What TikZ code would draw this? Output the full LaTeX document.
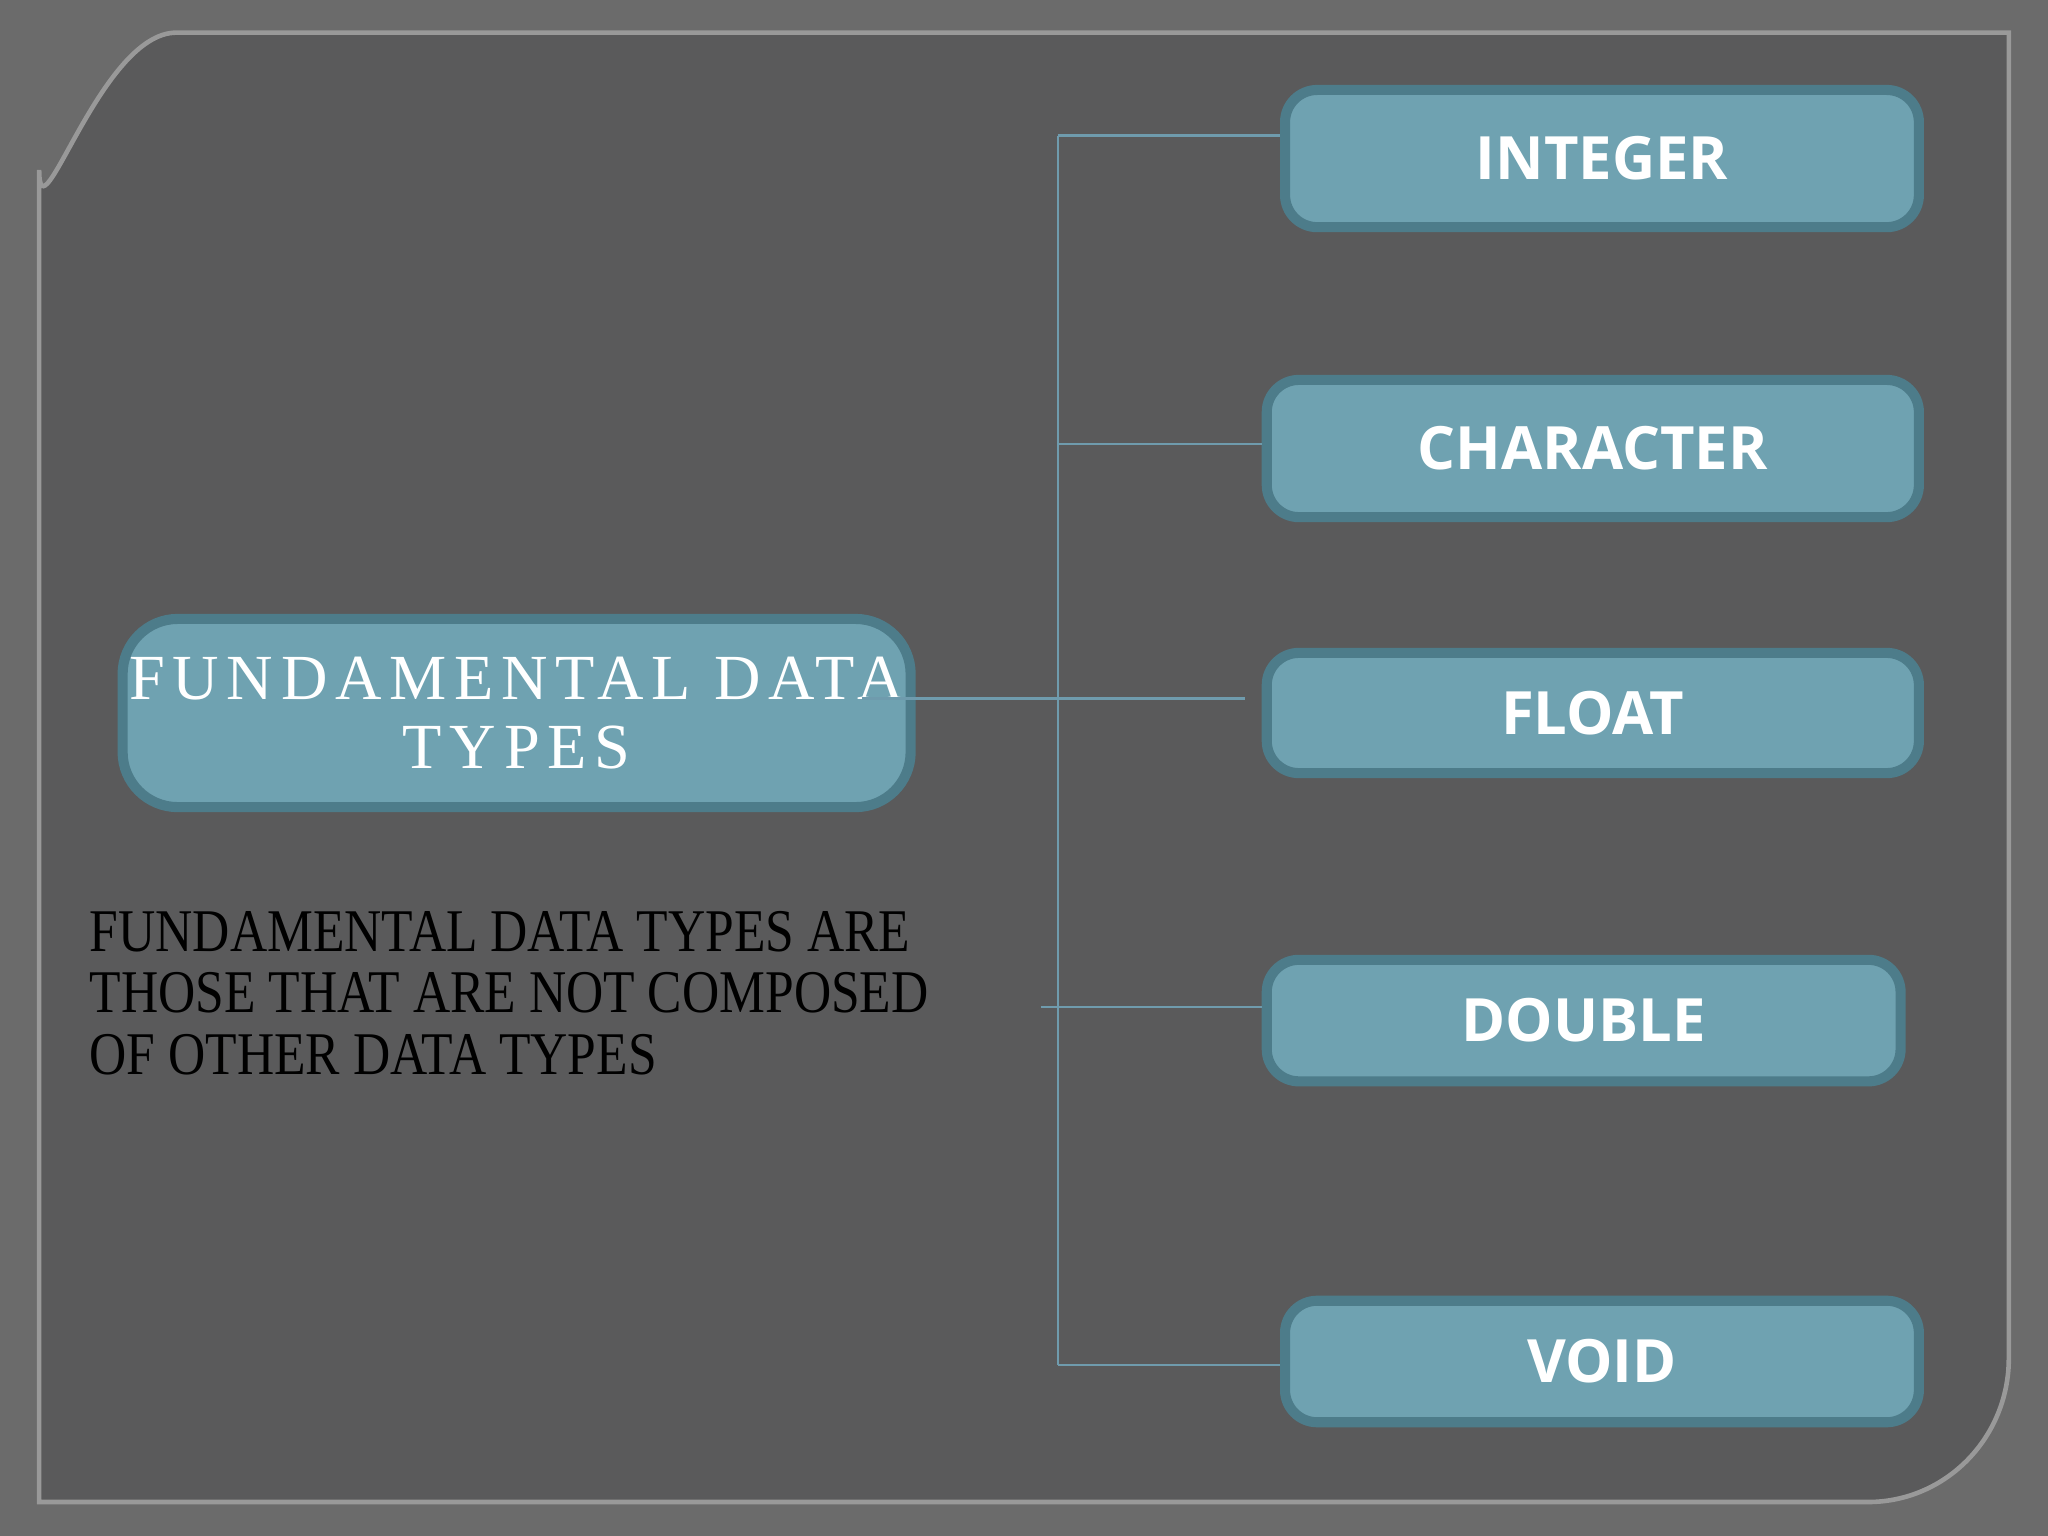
\documentclass[tikz,border=0pt]{standalone}
\usepackage{fontspec}
\setmainfont{Liberation Serif}
\newfontfamily\boxfont{Open Sans}
\newfontfamily\bodyfont{Liberation Serif}[FakeStretch=0.85]
\newfontfamily\titlefont{Liberation Serif}[LetterSpace=12]
\definecolor{outer}{HTML}{6B6B6B}
\definecolor{panel}{HTML}{5A5A5B}
\definecolor{boxfill}{HTML}{6FA2B1}
\definecolor{boxedge}{HTML}{4D7C8A}
\definecolor{linec}{HTML}{6F9BAD}
\tikzset{
  px/.style={x=0.01cm,y=-0.01cm},
  tbox/.style={draw=boxedge,line width=2.2pt,fill=boxfill,rounded corners=7pt,text=white,font=\boxfont\bfseries\fontsize{13}{15}\selectfont,anchor=north west,inner sep=0pt},
  conn/.style={draw=linec,line width=0.6pt}
}
\begin{document}
\begin{tikzpicture}[px]
\useasboundingbox (0,0) rectangle (1568,1176);
\fill[outer] (0,0) rectangle (1568,1176);
\fill[panel] (30,130) to[out=-90,in=180] (135,25) -- (1538,25) -- (1538,1040) to[out=-90,in=0] (1430,1150) -- (30,1150) -- cycle;
\draw[line width=1pt,black!40] (30,130) to[out=-90,in=180] (135,25) -- (1538,25) -- (1538,1040) to[out=-90,in=0] (1430,1150) -- (30,1150) -- cycle;
% connectors
\coordinate (top) at (810,104);
\coordinate (bot) at (810,1045);
\coordinate (c2) at (810,340);
\coordinate (c3a) at (660,535);
\coordinate (c4) at (797,771);
\draw[conn] (top) -- (bot);
\node[tbox,minimum width=4.85cm,minimum height=1.05cm] (int) at (980,65) {INTEGER};
\node[tbox,minimum width=4.99cm,minimum height=1.05cm] (chr) at (966,287) {CHARACTER};
\node[tbox,minimum width=4.99cm,minimum height=0.92cm] (flt) at (966,496) {FLOAT};
\node[tbox,minimum width=4.85cm,minimum height=0.93cm] (dbl) at (966,731) {DOUBLE};
\node[tbox,minimum width=4.85cm,minimum height=0.93cm] (void) at (980,992) {VOID};
\draw[conn] (top) -- (top -| int.west);
\draw[conn] (c2) -- (c2 -| chr.west);
\draw[conn] (c4) -- (c4 -| dbl.west);
\draw[conn] (bot) -- (bot -| void.west);
\node[tbox,rounded corners=12pt,minimum width=6.03cm,minimum height=1.44cm,font=\titlefont\fontsize{14}{15}\selectfont,align=center] (fdt) at (90,470) {FUNDAMENTAL DATA\\TYPES};
\draw[conn] (c3a) -- (953,535);
\node[anchor=north west,align=left,inner sep=0pt,font=\bodyfont\fontsize{13.2}{13.4}\selectfont,text=black] (desc) at (68,697) {FUNDAMENTAL DATA TYPES ARE\\THOSE THAT ARE NOT COMPOSED\\OF OTHER DATA TYPES};
\end{tikzpicture}
\end{document}
